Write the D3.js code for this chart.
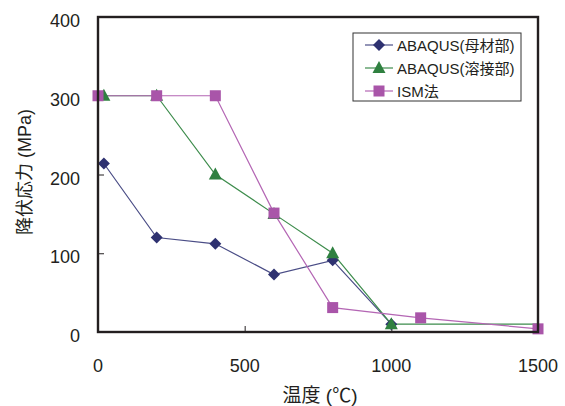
<!DOCTYPE html>
<html>
<head>
<meta charset="utf-8">
<script src="https://cdn.jsdelivr.net/npm/d3@7"></script>
<style>
  body { margin: 0; background: #fff; }
  text { font-family: "Liberation Sans", Arial, "Noto Sans CJK JP", sans-serif; fill: #231f20; }
</style>
</head>
<body>
<div id="chart"></div>
<script>
// series
const baseTemp = [20, 200, 400, 600, 800, 1000];
const baseStress = [214, 120, 112, 73, 91, 10];
const weldTemp = [20, 200, 400, 600, 800, 1000, 1500];
const weldStress = [300, 300, 200, 150, 100, 10, 10];
const weldMarked = [true, true, true, true, true, true, false];
const ismTemp = [0, 200, 400, 600, 800, 1100, 1500];
const ismStress = [300, 300, 300, 151, 31, 18, 4];

const seriesNames = ['ABAQUS(母材部)', 'ABAQUS(溶接部)', 'ISM法'];
const xTicks = [0, 500, 1000, 1500];
const yTicks = [0, 100, 200, 300, 400];

const width = 565, height = 406;
const margin = { top: 17, right: 27, bottom: 74, left: 98 };

const svg = d3.select('#chart')
  .append('svg')
  .attr('width', width)
  .attr('height', height);

const x = d3.scaleLinear().domain([0, 1500]).range([margin.left, width - margin.right]);
const y = d3.scaleLinear().domain([0, 400]).range([height - margin.bottom, margin.top]);

const series = [
  { name: seriesNames[0], color: '#2e3170', line: '#4a4d86', shape: 'diamond',
    pts: baseTemp.map((t, i) => ({ t, v: baseStress[i], m: true })) },
  { name: seriesNames[1], color: '#2f8040', line: '#3d8c4c', shape: 'triangle',
    pts: weldTemp.map((t, i) => ({ t, v: weldStress[i], m: weldMarked[i] })) },
  { name: seriesNames[2], color: '#a955a9', line: '#b466b4', shape: 'square',
    pts: ismTemp.map((t, i) => ({ t, v: ismStress[i], m: true })) },
];

function marker(g, shape, color) {
  if (shape === 'diamond') {
    g.append('path').attr('d', 'M0,-6L6,0L0,6L-6,0Z').attr('fill', color);
  } else if (shape === 'triangle') {
    g.append('path').attr('d', 'M0,-7L6.5,5L-6.5,5Z').attr('fill', color);
  } else {
    g.append('rect').attr('x', -5.5).attr('y', -5.5).attr('width', 11).attr('height', 11).attr('fill', color);
  }
}

// ticks (inside)
svg.append('g')
  .attr('transform', `translate(0,${y(0)})`)
  .call(d3.axisBottom(x).tickValues(xTicks).tickSize(-6).tickFormat(''))
  .call(g => g.select('.domain').remove())
  .selectAll('line').attr('stroke', '#231f20');

svg.append('g')
  .attr('transform', `translate(${x(0)},0)`)
  .call(d3.axisLeft(y).tickValues(yTicks).tickSize(-6).tickFormat(''))
  .call(g => g.select('.domain').remove())
  .selectAll('line').attr('stroke', '#231f20');

// tick labels
svg.selectAll('.xl')
  .data(xTicks)
  .join('text')
  .attr('x', d => x(d))
  .attr('y', y(0) + 40)
  .attr('text-anchor', 'middle')
  .attr('font-size', 18)
  .text(d => d);

svg.selectAll('.yl')
  .data(yTicks)
  .join('text')
  .attr('x', 80)
  .attr('y', d => y(d) + 10)
  .attr('text-anchor', 'end')
  .attr('font-size', 18)
  .text(d => d);

// lines
const line = d3.line().x(d => x(d.t)).y(d => y(d.v));
series.forEach(s => {
  svg.append('path')
    .datum(s.pts)
    .attr('d', line)
    .attr('fill', 'none')
    .attr('stroke', s.line)
    .attr('stroke-width', 1.2);
});
series.forEach(s => {
  s.pts.filter(p => p.m).forEach(p => {
    const g = svg.append('g').attr('transform', `translate(${x(p.t)},${y(p.v)})`);
    marker(g, s.shape, s.color);
  });
});

// frame
svg.append('rect')
  .attr('x', x(0))
  .attr('y', y(400))
  .attr('width', x(1500) - x(0))
  .attr('height', y(0) - y(400))
  .attr('fill', 'none')
  .attr('stroke', '#231f20')
  .attr('stroke-width', 2.4);

// legend
const leg = svg.append('g').attr('transform', 'translate(353,33)');
leg.append('rect')
  .attr('width', 168).attr('height', 68)
  .attr('fill', '#fff').attr('stroke', '#333').attr('stroke-width', 1);
series.forEach((s, i) => {
  const cy = 12 + i * 23;
  leg.append('line')
    .attr('x1', 12).attr('x2', 40).attr('y1', cy).attr('y2', cy)
    .attr('stroke', s.line).attr('stroke-width', 1.2);
  const g = leg.append('g').attr('transform', `translate(26,${cy})`);
  marker(g, s.shape, s.color);
  leg.append('text')
    .attr('x', 44).attr('y', cy + 5.5)
    .attr('font-size', 15)
    .text(s.name);
});

// axis titles
svg.append('text')
  .attr('x', 320).attr('y', 402)
  .attr('text-anchor', 'middle')
  .attr('font-size', 19)
  .text('温度 (℃)');

svg.append('text')
  .attr('transform', 'translate(31,172) rotate(-90)')
  .attr('text-anchor', 'middle')
  .attr('font-size', 18)
  .text('降伏応力 (MPa)');
</script>
</body>
</html>
